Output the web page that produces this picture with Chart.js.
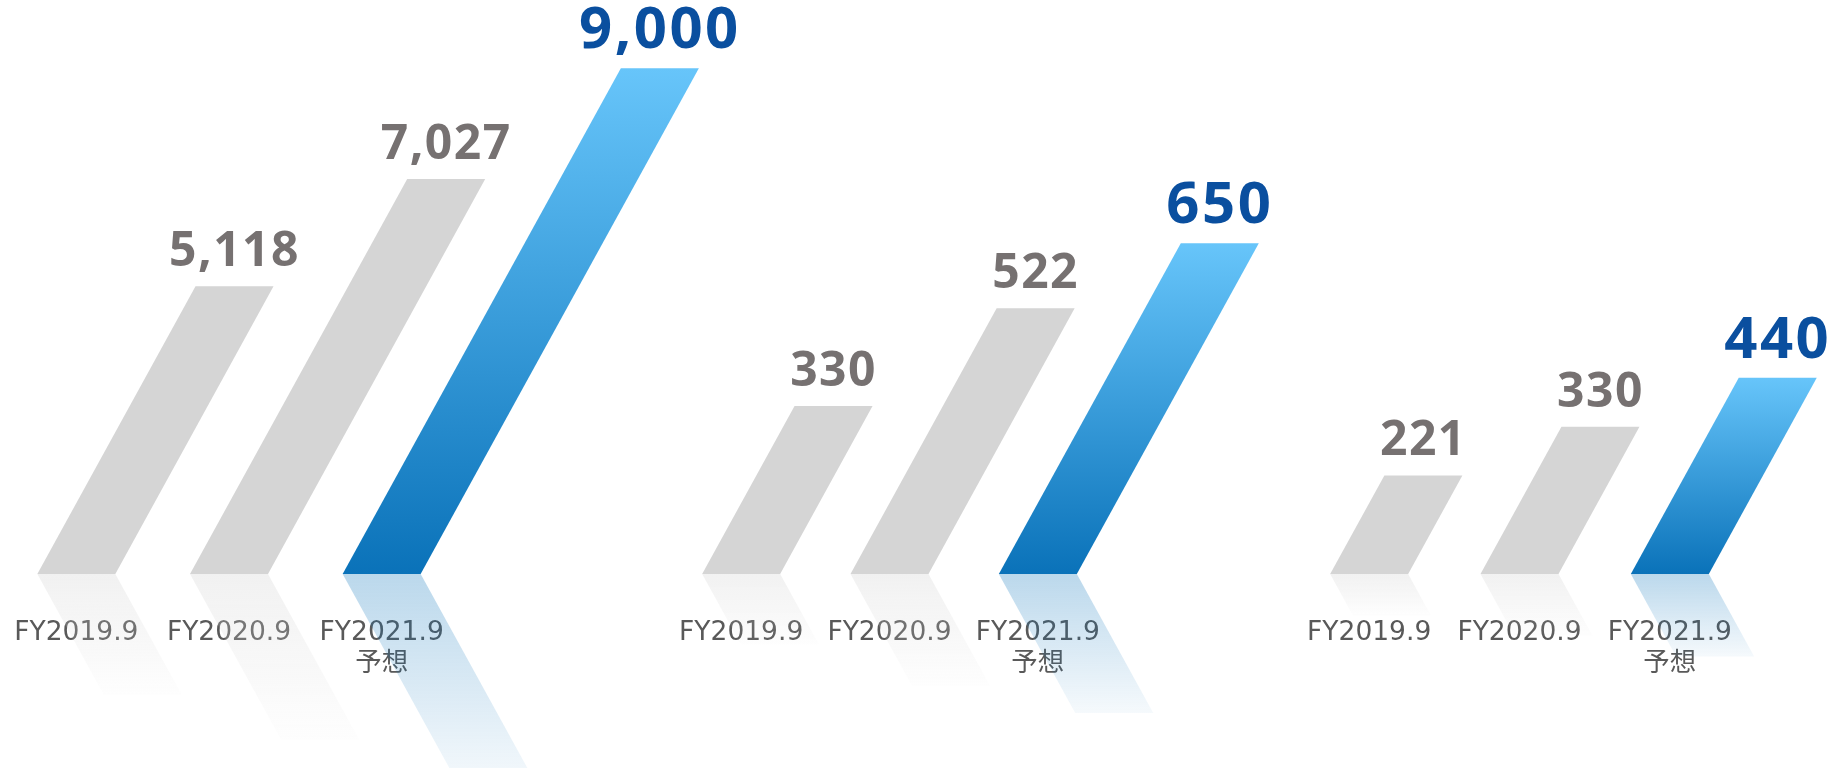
<!DOCTYPE html>
<html><head><meta charset="utf-8">
<script src="https://cdn.jsdelivr.net/npm/chart.js@4.4.0/dist/chart.umd.min.js"></script>
<style>
html,body{margin:0;padding:0;background:#fff;width:1841px;height:768px;overflow:hidden;}
canvas{position:absolute;left:0;top:0;}
</style></head><body>
<canvas id="c1" width="1841" height="768"></canvas>
<canvas id="c2" width="1841" height="768"></canvas>
<canvas id="c3" width="1841" height="768"></canvas>
<script>
// ---- data ----
const categories = ["FY2019.9", "FY2020.9", ["FY2021.9", "予想"]];
const panel1Values = [5118, 7027, 9000];
const panel2Values = [330, 522, 650];
const panel3Values = [221, 330, 440];
const panel1Max = 10000;
const panel2Max = 1000;
const panel3Max = 1000;
const forecastIndex = 2;

// ---- style ----
const SLANT = 0.55;     // horizontal shift per pixel of height
const REFLECT = 0.42;   // reflection length relative to bar height

const slantPlugin = {
  id: 'slantBars',
  afterDatasetsDraw(chart) {
    const ctx = chart.ctx;
    const meta = chart.getDatasetMeta(0);
    const values = chart.data.datasets[0].data;
    meta.data.forEach((bar, i) => {
      const p = bar.getProps(['x', 'y', 'base', 'width'], true);
      const x = p.x, y = p.y, base = p.base, half = p.width / 2;
      const h = base - y;
      const shift = h * SLANT;
      const isF = i === forecastIndex;
      ctx.save();
      // reflection
      const d = h * REFLECT;
      const rs = d * SLANT;
      const rg = ctx.createLinearGradient(0, base, 0, base + d);
      if (isF) {
        rg.addColorStop(0, 'rgba(10,115,186,0.28)');
        rg.addColorStop(1, 'rgba(10,115,186,0.04)');
      } else {
        rg.addColorStop(0, 'rgba(213,213,213,0.33)');
        rg.addColorStop(1, 'rgba(213,213,213,0.03)');
      }
      ctx.fillStyle = rg;
      ctx.beginPath();
      ctx.moveTo(x - half, base);
      ctx.lineTo(x + half, base);
      ctx.lineTo(x + half + rs, base + d);
      ctx.lineTo(x - half + rs, base + d);
      ctx.closePath();
      ctx.fill();
      // bar
      let fill = '#D5D5D5';
      if (isF) {
        fill = ctx.createLinearGradient(0, y, 0, base);
        fill.addColorStop(0, '#67C5FA');
        fill.addColorStop(1, '#0A72B9');
      }
      ctx.fillStyle = fill;
      ctx.beginPath();
      ctx.moveTo(x - half, base);
      ctx.lineTo(x + half, base);
      ctx.lineTo(x + half + shift, y);
      ctx.lineTo(x - half + shift, y);
      ctx.closePath();
      ctx.fill();
      // value label
      ctx.font = 'bold ' + (isF ? 58 : 48) + "px 'Open Sans'";
      ctx.letterSpacing = isF ? '2.5px' : '1.5px';
      ctx.fillStyle = isF ? '#0A4F9F' : '#767171';
      ctx.textAlign = 'center';
      ctx.textBaseline = 'alphabetic';
      ctx.fillText(values[i].toLocaleString('en-US'), x + shift, y - 20);
      ctx.restore();
    });
  }
};

function makeChart(id, values, max, pad) {
  return new Chart(document.getElementById(id), {
    type: 'bar',
    data: {
      labels: categories,
      datasets: [{ data: values, backgroundColor: 'rgba(0,0,0,0)', borderWidth: 0, barThickness: 78 }]
    },
    options: {
      responsive: false,
      animation: false,
      devicePixelRatio: 1,
      events: [],
      layout: { autoPadding: false, padding: { left: pad.left, right: pad.right, top: pad.top, bottom: 44 } },
      plugins: { legend: { display: false }, tooltip: { enabled: false } },
      scales: {
        x: {
          z: 1,
          offset: true,
          grid: { display: false, drawTicks: false },
          border: { display: false },
          ticks: {
            autoSkip: false, maxRotation: 0, padding: 43, color: '#595959',
            font: { family: "'DejaVu Sans','Noto Sans CJK JP'", size: 26.5, lineHeight: 1.18 }
          },
          afterFit(s) { s.height = 150; s.paddingLeft = 0; s.paddingRight = 0; }
        },
        y: { display: false, min: 0, max: max }
      }
    },
    plugins: [slantPlugin]
  });
}

makeChart('c1', panel1Values, panel1Max, { left: 0, right: 1383, top: 12 });
makeChart('c2', panel2Values, panel2Max, { left: 667, right: 729, top: 65 });
makeChart('c3', panel3Values, panel3Max, { left: 1294, right: 96, top: 128 });
</script>
</body></html>
